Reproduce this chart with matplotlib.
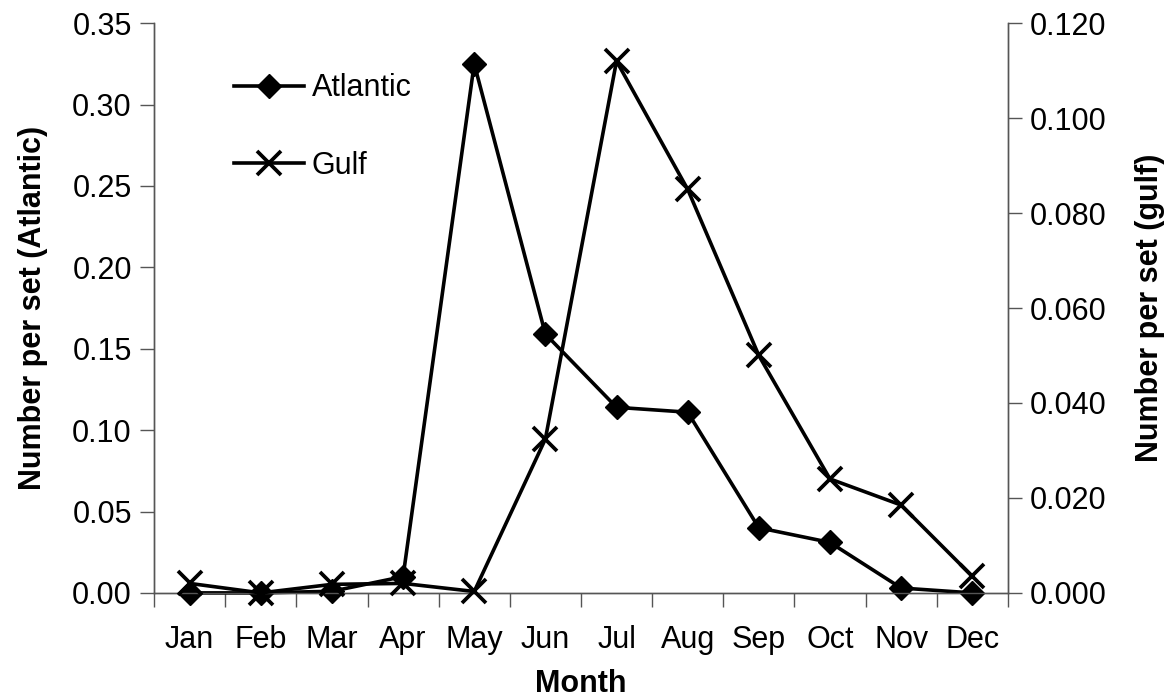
import matplotlib
matplotlib.use("Agg")
import matplotlib.pyplot as plt
import numpy as np

plt.rcParams['font.family'] = ['Liberation Sans', 'DejaVu Sans']

# monthly catch rates
months = ["Jan", "Feb", "Mar", "Apr", "May", "Jun", "Jul", "Aug", "Sep", "Oct", "Nov", "Dec"]
atlantic = [0.0, 0.0, 0.001, 0.010, 0.325, 0.159, 0.114, 0.111, 0.040, 0.031, 0.003, 0.0]
gulf = [0.002, 0.0, 0.0018, 0.002, 0.0003, 0.0324, 0.112, 0.085, 0.050, 0.024, 0.0185, 0.0035]

x = np.arange(len(months))

fig = plt.figure(figsize=(11.76, 7.0), dpi=100)
ax1 = fig.add_axes([0.131, 0.153, 0.726, 0.814])
ax2 = ax1.twinx()

l1, = ax1.plot(x, atlantic, color='black', lw=2.6, marker='D', markersize=12, label='Atlantic', clip_on=False, zorder=3)
l2, = ax2.plot(x, gulf, color='black', lw=2.6, marker='x', markersize=17, markeredgewidth=2.7, label='Gulf', clip_on=False, zorder=3)

ax1.set_xlim(-0.5, 11.5)
ax1.set_ylim(0, 0.35)
ax2.set_ylim(0, 0.12)

ax1.set_yticks(np.arange(0, 0.351, 0.05))
ax1.set_yticklabels([f"{v:.2f}" for v in np.arange(0, 0.351, 0.05)])
ax2.set_yticks(np.arange(0, 0.1201, 0.02))
ax2.set_yticklabels([f"{v:.3f}" for v in np.arange(0, 0.1201, 0.02)])

# x ticks sit between the months, labels at the month centres
ax1.set_xticks(np.arange(-0.5, 12, 1))
ax1.set_xticklabels([])
ax1.set_xticks(x, minor=True)
ax1.set_xticklabels(months, minor=True)
ax1.tick_params(axis='x', which='major', direction='out', length=10, width=1, color='#555555')
ax1.tick_params(axis='x', which='minor', length=0, pad=23, labelsize=22)
ax1.tick_params(axis='y', direction='out', length=10, width=1, color='#555555', labelsize=22, pad=6)
ax2.tick_params(axis='y', direction='out', length=10, width=1, color='#555555', labelsize=22, pad=6)

for ax in (ax1, ax2):
    ax.spines['top'].set_visible(False)
    for s in ('left', 'right', 'bottom'):
        ax.spines[s].set_color('#555555')
        ax.spines[s].set_linewidth(1)

ax1.set_xlabel("Month", fontsize=22, fontweight='bold', labelpad=10)
ax1.set_ylabel("Number per set (Atlantic)", fontsize=22, fontweight='bold', labelpad=17)
ax2.set_ylabel("Number per set (gulf)", fontsize=22, fontweight='bold', labelpad=20)

ax1.legend(handles=[l1, l2], loc='upper left', bbox_to_anchor=(0.061, 0.96), frameon=False,
           fontsize=22, handlelength=2.3, handletextpad=0.25, labelspacing=1.55)

fig.savefig("out.png", dpi=100)
